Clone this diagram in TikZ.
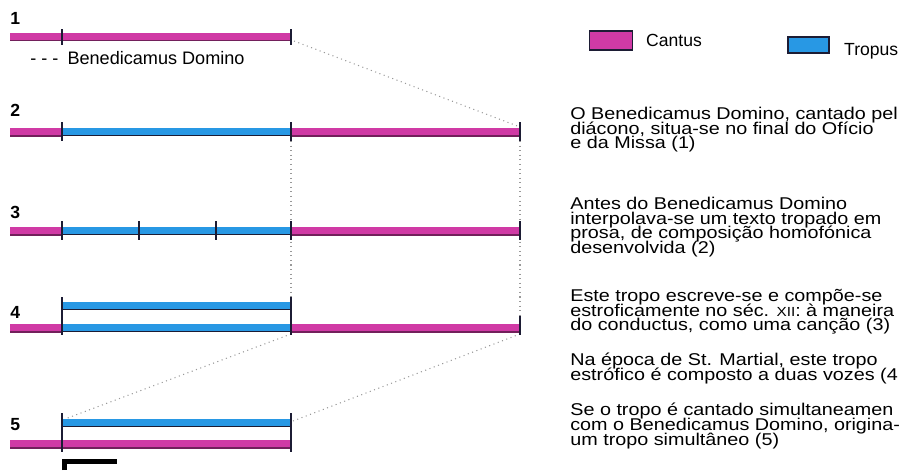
\documentclass[tikz,border=0pt]{standalone}
\usepackage{fontspec}
\setmainfont{Liberation Sans}
\newfontfamily\notefont[FakeStretch=1.16]{Liberation Sans}
\usetikzlibrary{positioning,calc}
\definecolor{cantusc}{RGB}{208,58,165}
\definecolor{tropusc}{RGB}{40,152,228}
\definecolor{inkc}{RGB}{28,28,52}
\lineskiplimit=-20pt

\begin{document}
\begin{tikzpicture}[x=0.02cm,y=-0.02cm]
\tikzset{
  cantus/.style={draw=cantusc, line width=0.18cm,
    postaction={draw=cantusc!55!black, line width=0.03cm, transform canvas={yshift=-0.075cm}}},
  tropus/.style={draw=tropusc, line width=0.17cm,
    postaction={draw=inkc, line width=0.03cm, transform canvas={yshift=-0.07cm}}},
  tick/.style={draw=inkc, line width=1.3pt},
  guide/.style={draw=black!40, dotted, line width=0.6pt},
  rowno/.style={font=\bfseries\fontsize{10}{12}\selectfont, anchor=west, inner sep=0pt},
  para/.style={anchor=north west, align=left, inner sep=0pt,
    font=\notefont\fontsize{9.7}{8.3}\selectfont},
  legbox/.style={draw=inkc, line width=0.8pt}
}
\useasboundingbox (0,0) rectangle (899,470);

% row coordinates
\coordinate (r1s) at (10,37);  \coordinate (r1t) at (62,37);  \coordinate (r1m) at (291,37);
\coordinate (r2s) at (10,132); \coordinate (r2t) at (62,132); \coordinate (r2m) at (291,132); \coordinate (r2e) at (520,132);
\coordinate (r3s) at (10,231); \coordinate (r3t) at (62,231); \coordinate (r3u) at (139,231); \coordinate (r3v) at (216,231);
\coordinate (r3m) at (291,231); \coordinate (r3e) at (520,231);
\coordinate (r4a) at (62,306);  \coordinate (r4b) at (291,306);
\coordinate (r4s) at (10,328); \coordinate (r4t) at (62,328); \coordinate (r4m) at (291,328); \coordinate (r4e) at (520,328);
\coordinate (r5a) at (62,423);  \coordinate (r5b) at (291,423);
\coordinate (r5s) at (10,444); \coordinate (r5t) at (62,444); \coordinate (r5m) at (291,444);

% dotted guides
\draw[guide] ($(r1m)+(3,4)$) -- ($(r2e)+(0,-5)$);
\draw[guide] (r2m) -- ($(r4b)+(0,-9)$);
\draw[guide] (r2e) -- ($(r4e)+(0,-8)$);
\draw[guide] ($(r4m)+(0,6)$) -- ($(r5a)+(3,-4)$);
\draw[guide] ($(r4e)+(0,6)$) -- ($(r5b)+(2,-2)$);

% bars
\draw[cantus] (r1s) -- (r1m);
\draw[cantus] (r2s) -- (r2t); \draw[tropus] (r2t) -- (r2m); \draw[cantus] (r2m) -- (r2e);
\draw[cantus] (r3s) -- (r3t); \draw[tropus] (r3t) -- (r3m); \draw[cantus] (r3m) -- (r3e);
\draw[tropus] (r4a) -- (r4b);
\draw[cantus] (r4s) -- (r4t); \draw[tropus] (r4t) -- (r4m); \draw[cantus] (r4m) -- (r4e);
\draw[tropus] (r5a) -- (r5b);
\draw[cantus] (r5s) -- (r5m);

% ticks
\foreach \c in {r1t,r1m}
  \draw[tick] ($(\c)+(0,-8)$) -- ($(\c)+(0,8)$);
\foreach \c in {r2t,r2m,r2e,r3t,r3u,r3v,r3m,r3e}
  \draw[tick] ($(\c)+(0,-10)$) -- ($(\c)+(0,9)$);
\foreach \c in {r4a,r4b}
  \draw[tick] ($(\c)+(0,-9)$) -- ($(\c)+(0,29)$);
\draw[tick] ($(r4e)+(0,-12)$) -- ($(r4e)+(0,7)$);
\foreach \c in {r5a,r5b}
  \draw[tick] ($(\c)+(0,-10)$) -- ($(\c)+(0,29)$);

% row numbers
\node[rowno] (n1) at (10,18) {1};
\node[rowno] (n2) at (10,110) {2};
\node[rowno] (n3) at (10,212) {3};
\node[rowno] (n4) at (10,312) {4};
\node[rowno] (n5) at (10,425) {5};
\node[anchor=west, inner sep=0pt, font=\fontsize{10.3}{12}\selectfont] (bd) at (30,58) {- - -\enspace Benedicamus Domino};

% corner mark
\draw[line width=0.1cm] (64.5,470) -- (64.5,461) -- (117,461);

% legend
\node[legbox, fill=cantusc, minimum width=0.86cm, minimum height=0.38cm, inner sep=0pt] (lc) at (611,40.5) {};
\node[anchor=west, font=\fontsize{10}{12}\selectfont] (tc) at (640,40) {Cantus};
\node[legbox, fill=tropusc, minimum width=0.82cm, minimum height=0.32cm, inner sep=0pt] (lt) at (808.5,45) {};
\node[anchor=west, font=\fontsize{10}{12}\selectfont] (tt) at (838,51) {Tropus};

% notes
\node[para] (p1) at (570,107) {O Benedicamus Domino, cantado pel\\diácono, situa-se no final do Ofício\\e da Missa (1)};
\node[para] (p2) at (570,197) {Antes do Benedicamus Domino\\interpolava-se um texto tropado em\\prosa, de composição homofónica\\desenvolvida (2)};
\node[para] (p3) at (570,289) {Este tropo escreve-se e compõe-se\\estroficamente no séc. {\fontsize{7.5}{8}\selectfont XII}: à maneira\\do conductus, como uma canção (3)};
\node[para] (p4) at (570,353) {Na época de St. Martial, este tropo\\estrófico é composto a duas vozes (4};
\node[para] (p5) at (570,403) {Se o tropo é cantado simultaneamen\\com o Benedicamus Domino, origina-\\um tropo simultâneo (5)};
\end{tikzpicture}
\end{document}
